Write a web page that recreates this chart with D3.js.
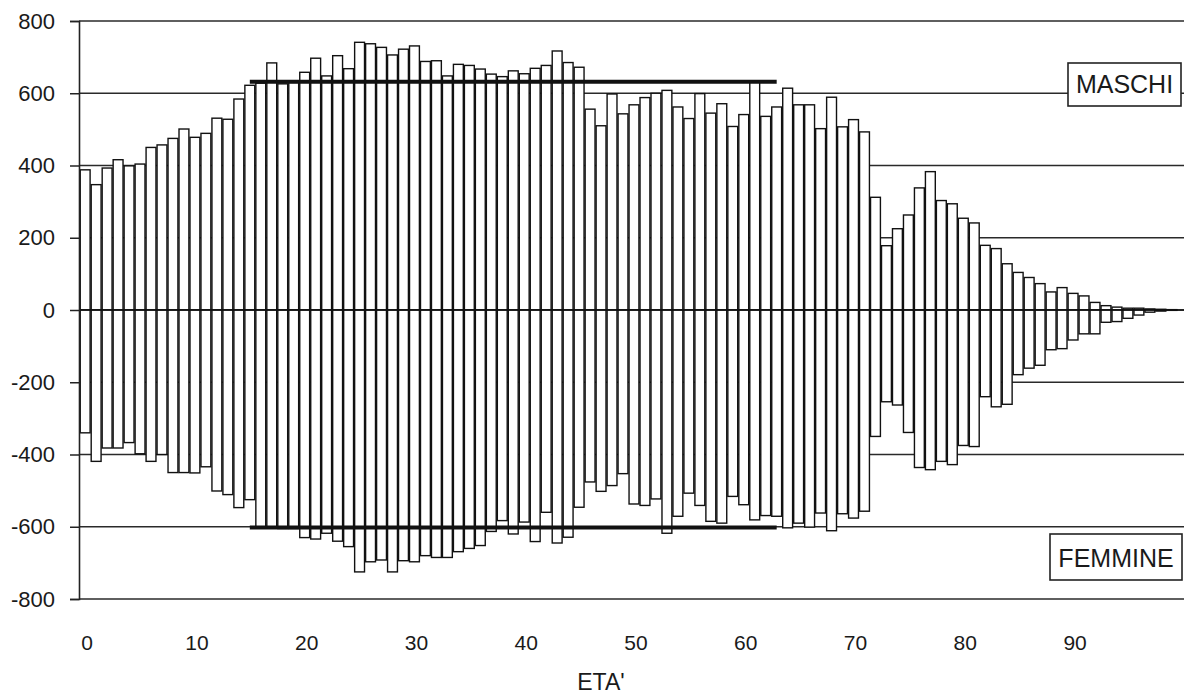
<!DOCTYPE html>
<html>
<head>
<meta charset="utf-8">
<script src="https://cdn.jsdelivr.net/npm/d3@7/dist/d3.min.js"></script>
<style>
  html, body { margin: 0; padding: 0; background: #fff; }
  svg { display: block; }
  text { font-family: "Liberation Sans", Arial, Helvetica, sans-serif; fill: #1a1a1a; }
</style>
</head>
<body>
<svg id="chart" width="1184" height="695"></svg>
<script>
// ---- data ----
const ages = d3.range(0, 100);
const maschi = [
  388, 347, 393, 416, 399, 404, 450, 457, 475, 501,
  478, 489, 531, 528, 584, 622, 628, 684, 626, 630,
  658, 697, 648, 704, 668, 741, 737, 727, 706, 722,
  731, 688, 690, 648, 680, 677, 667, 653, 646, 662,
  654, 669, 677, 717, 685, 672, 556, 510, 598, 543,
  568, 588, 600, 608, 562, 530, 599, 545, 571, 508,
  541, 633, 536, 562, 614, 568, 568, 502, 589, 507,
  527, 493, 312, 178, 225, 263, 338, 383, 303, 294,
  254, 241, 179, 170, 128, 104, 90, 73, 50, 62,
  46, 39, 21, 12, 8, 5, 5, 3, 2, 1
];
const femmine = [
  -340, -419, -382, -382, -367, -398, -419, -400, -450, -450,
  -451, -434, -501, -511, -547, -525, -603, -603, -605, -605,
  -630, -634, -618, -640, -655, -725, -697, -692, -725, -694,
  -697, -680, -685, -685, -669, -660, -652, -613, -583, -620,
  -587, -641, -560, -645, -629, -546, -476, -502, -486, -453,
  -537, -541, -523, -618, -571, -507, -541, -585, -590, -516,
  -539, -581, -569, -571, -603, -590, -601, -562, -611, -564,
  -576, -557, -350, -254, -263, -339, -436, -442, -419, -428,
  -375, -378, -240, -268, -261, -179, -161, -153, -110, -107,
  -83, -66, -66, -34, -32, -23, -14, -6, -3, -1
];
// reference lines (average level, ages 15-63)
const mediaMaschi = 632;
const mediaFemmine = -602;
const mediaDa = 15, mediaA = 63;

const yTicks = [-800, -600, -400, -200, 0, 200, 400, 600, 800];
const xTicks = [0, 10, 20, 30, 40, 50, 60, 70, 80, 90];
const xTitle = "ETA'";
const labelM = "MASCHI";
const labelF = "FEMMINE";

// ---- layout ----
const W = 1184, H = 695;
const mLeft = 79, mRight = 1184, mTop = 21, mBottom = 599;
const svg = d3.select("#chart");

const x = d3.scaleBand().domain(ages).range([mLeft + 1, 1177]).paddingInner(0.1).paddingOuter(0.02);
const y = d3.scaleLinear().domain([-800, 800]).range([mBottom, mTop]);

// gridlines
svg.append("g")
  .selectAll("line").data(yTicks).join("line")
  .attr("x1", mLeft).attr("x2", mRight)
  .attr("y1", d => y(d)).attr("y2", d => y(d))
  .attr("stroke", "#2a2a2a").attr("stroke-width", 1.5);

// bars
const bars = svg.append("g");
bars.selectAll("rect.m").data(ages).join("rect").attr("class", "m")
  .attr("x", d => x(d)).attr("width", x.bandwidth())
  .attr("y", d => y(maschi[d])).attr("height", d => y(0) - y(maschi[d]))
  .attr("fill", "#fff").attr("stroke", "#111").attr("stroke-width", 1.4);
bars.selectAll("rect.f").data(ages).join("rect").attr("class", "f")
  .attr("x", d => x(d)).attr("width", x.bandwidth())
  .attr("y", y(0)).attr("height", d => y(femmine[d]) - y(0))
  .attr("fill", "#fff").attr("stroke", "#111").attr("stroke-width", 1.4);

// zero line on top
svg.append("line")
  .attr("x1", mLeft).attr("x2", mRight)
  .attr("y1", y(0)).attr("y2", y(0))
  .attr("stroke", "#111").attr("stroke-width", 1.6);

// average lines
const cx = d => x(d) + x.bandwidth() / 2;
[mediaMaschi, mediaFemmine].forEach(v => {
  svg.append("line")
    .attr("x1", cx(mediaDa)).attr("x2", cx(mediaA))
    .attr("y1", y(v)).attr("y2", y(v))
    .attr("stroke", "#111").attr("stroke-width", 4);
});

// y axis
const yAxis = svg.append("g").attr("transform", `translate(${mLeft},0)`)
  .call(d3.axisLeft(y).tickValues(yTicks).tickSize(9).tickPadding(15).tickFormat(d => String(d)));
yAxis.select(".domain").attr("stroke", "#222").attr("stroke-width", 1.6);
yAxis.selectAll(".tick line").attr("stroke", "#222").attr("stroke-width", 1.5);
yAxis.selectAll(".tick text")
  .style("font-family", '"Liberation Sans", Arial, sans-serif')
  .style("font-size", "22px").attr("fill", "#1a1a1a");

// x axis labels
const xAxis = svg.append("g").attr("transform", `translate(0,${mBottom})`)
  .call(d3.axisBottom(x).tickValues(xTicks).tickSize(0).tickPadding(36));
xAxis.select(".domain").remove();
xAxis.selectAll(".tick text")
  .attr("dx", 2)
  .style("font-family", '"Liberation Sans Narrow", "Arial Narrow", "Liberation Sans", Arial, sans-serif')
  .style("font-size", "21px").attr("fill", "#1a1a1a");

// x title
svg.append("text").attr("x", 601).attr("y", 690)
  .attr("text-anchor", "middle")
  .style("font-family", '"Liberation Sans Narrow", "Arial Narrow", "Liberation Sans", Arial, sans-serif')
  .style("font-size", "23px").text(xTitle);

// legend-like labels
function boxLabel(x0, y0, w, h, baseline, txt) {
  svg.append("rect").attr("x", x0).attr("y", y0).attr("width", w).attr("height", h)
    .attr("fill", "#fff").attr("stroke", "#222").attr("stroke-width", 1.6);
  svg.append("text").attr("x", x0 + w / 2).attr("y", baseline)
    .attr("text-anchor", "middle").style("font-size", "25px").text(txt);
}
boxLabel(1068, 63, 113, 43, 93, labelM);
boxLabel(1050, 534, 132, 46, 567, labelF);
</script>
</body>
</html>
